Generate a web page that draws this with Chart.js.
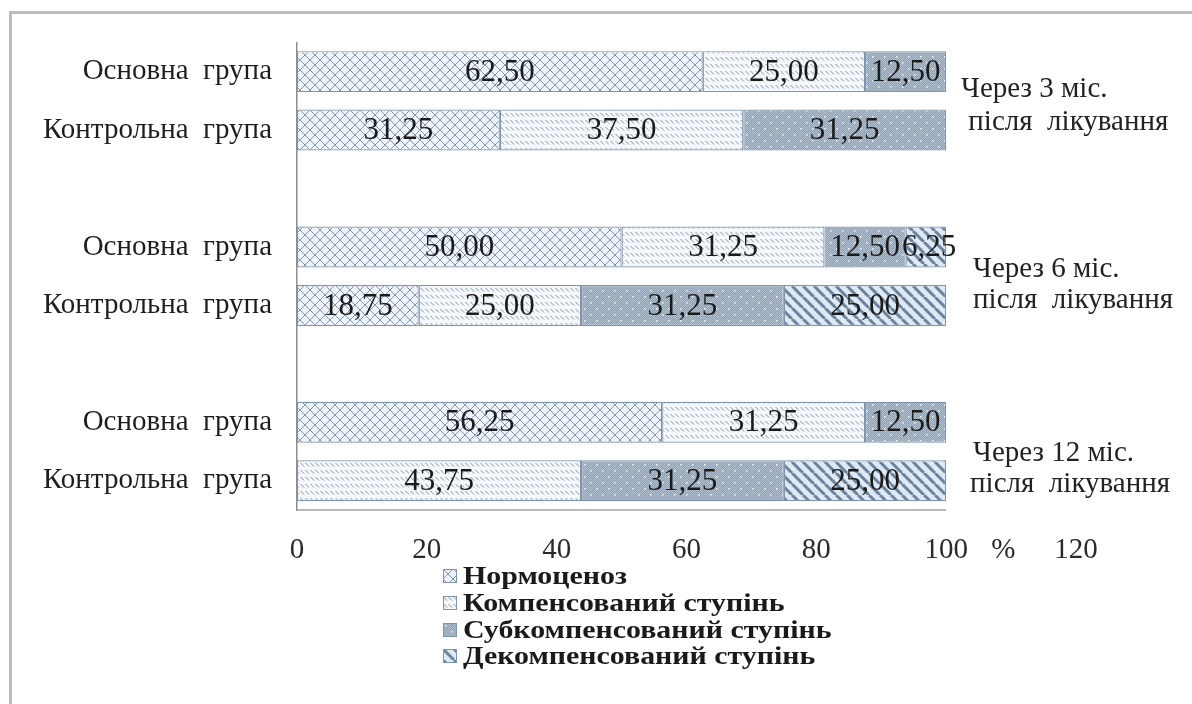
<!DOCTYPE html>
<html>
<head>
<meta charset="utf-8">
<script src="https://cdn.jsdelivr.net/npm/chart.js@4.4.1/dist/chart.umd.min.js"></script>
<style>
  html, body { margin: 0; padding: 0; background: #fff; width: 1192px; height: 704px; overflow: hidden; }
  #frame { position: absolute; left: 9px; top: 11px; width: 1200px; height: 720px;
           border-top: 3px solid #bdbdbd; border-left: 3px solid #bdbdbd; }
  #wrap { position: absolute; left: 0; top: 0; width: 1192px; height: 580px; }
  #legend { position: absolute; left: 443px; top: 563px; font-family: "Liberation Serif", serif;
            font-weight: bold; font-size: 26px; color: #1a1a1a; }
  .item { display: flex; align-items: center; height: 26.7px; white-space: pre; }
  .item canvas { width: 14px; height: 14px; margin-right: 6px; }
  .item span { display: inline-block; transform: scaleX(1.15); transform-origin: 0 50%; }
</style>
</head>
<body>
<div id="frame"></div>
<div id="wrap"><canvas id="chart" width="1192" height="580"></canvas></div>
<div id="legend"></div>
<script>
// Groups: 3, 6 and 12 months after treatment; empty rows separate the groups
const categories = ['Основна  група', 'Контрольна  група', '', 'Основна  група', 'Контрольна  група', '', 'Основна  група', 'Контрольна  група'];
const seriesNames = ['Нормоценоз', 'Компенсований ступінь', 'Субкомпенсований ступінь', 'Декомпенсований ступінь'];
const normocenosis   = [62.50, 31.25, null, 50.00, 18.75, null, 56.25, 0];
const compensated    = [25.00, 37.50, null, 31.25, 25.00, null, 31.25, 43.75];
const subcompensated = [12.50, 31.25, null, 12.50, 31.25, null, 12.50, 31.25];
const decompensated  = [0,     0,     null, 6.25,  25.00, null, 0,     25.00];
const xTicks = [0, 20, 40, 60, 80, 100, 120];
const axisUnit = '%';
const periodNotes = [
  ['Через 3 міс.', ' після  лікування'],
  ['Через 6 міс.', 'після  лікування'],
  ['Через 12 міс.', 'після  лікування']
];

const SERIF = '"Liberation Serif", "Times New Roman", serif';

// ---- fill patterns ----
function makeTile(w, h, paint) {
  const c = document.createElement('canvas');
  c.width = w; c.height = h;
  paint(c.getContext('2d'), w, h);
  return c;
}
const tiles = [
  // cross-hatch
  makeTile(10, 10, (g, w, h) => {
    g.fillStyle = '#eef4fa'; g.fillRect(0, 0, w, h);
    g.strokeStyle = '#8296ad'; g.lineWidth = 1;
    g.beginPath();
    g.moveTo(0, 0); g.lineTo(w, h);
    g.moveTo(w, 0); g.lineTo(0, h);
    g.stroke();
  }),
  // short downward dashes
  makeTile(5, 7, (g, w, h) => {
    g.fillStyle = '#f5f8fb'; g.fillRect(0, 0, w, h);
    g.strokeStyle = '#7f91a8'; g.lineWidth = 1;
    g.beginPath(); g.moveTo(0.5, 1); g.lineTo(4, 4.5); g.stroke();
  }),
  // dense dots
  makeTile(12, 12, (g, w, h) => {
    for (let y = 0; y < h; y++) for (let x = 0; x < w; x++) {
      g.fillStyle = (x + y) % 2 ? '#8ca0b7' : '#b1c0d1';
      g.fillRect(x, y, 1, 1);
    }
    g.fillStyle = '#f4f8fc';
    g.fillRect(2, 2, 1.5, 1.5); g.fillRect(8, 8, 1.5, 1.5);
  }),
  // wide downward diagonal stripes
  makeTile(11, 11, (g, w, h) => {
    g.fillStyle = '#dde9f5'; g.fillRect(0, 0, w, h);
    g.strokeStyle = '#6d829c'; g.lineWidth = 3;
    g.beginPath();
    for (let k = -1; k <= 1; k++) { g.moveTo(k * w, 0); g.lineTo(k * w + w, h); }
    g.stroke();
  })
];
const canvasEl = document.getElementById('chart');
const ctx = canvasEl.getContext('2d');
const patterns = tiles.map(t => ctx.createPattern(t, 'repeat'));
const seriesValues = [normocenosis, compensated, subcompensated, decompensated];

const fmt = v => v.toFixed(2).replace('.', ',');

// value labels centred in each segment, nudged right when they would collide
const valueLabels = {
  id: 'valueLabels',
  afterDatasetsDraw(chart) {
    const g = chart.ctx;
    g.save();
    g.font = '31px ' + SERIF;
    g.fillStyle = '#1b1b1b';
    g.textAlign = 'center';
    g.textBaseline = 'middle';
    const rightEdges = {};
    chart.data.datasets.forEach((ds, di) => {
      const meta = chart.getDatasetMeta(di);
      meta.data.forEach((el, i) => {
        const v = ds.data[i];
        if (!v) return;
        const txt = fmt(v);
        const w = g.measureText(txt).width;
        let cx = (el.x + el.base) / 2;
        const prev = rightEdges[i];
        if (prev !== undefined && cx - w / 2 < prev + 2) cx = prev + 2 + w / 2;
        rightEdges[i] = cx + w / 2;
        g.fillText(txt, cx, el.y + 1);
      });
    });
    g.restore();
  }
};

// period notes on the right of each group, unit sign on the value axis, base line
const noteOffsets = [[-11, 22], [-7, 24], [2, 33]];
const noteIndent = [[0, 0], [12, 12], [12, 9]];
const extras = {
  id: 'extras',
  afterDraw(chart) {
    const g = chart.ctx;
    const xs = chart.scales.x, ys = chart.scales.y;
    g.save();
    // base line under the bars
    g.strokeStyle = '#a3a3a3'; g.lineWidth = 1.5;
    g.beginPath();
    g.moveTo(xs.getPixelForValue(0), chart.chartArea.bottom);
    g.lineTo(xs.getPixelForValue(100), chart.chartArea.bottom);
    g.stroke();
    // notes
    g.font = '29px ' + SERIF;
    g.fillStyle = '#222';
    g.textAlign = 'left';
    g.textBaseline = 'middle';
    periodNotes.forEach((lines, k) => {
      const yc = (ys.getPixelForValue(k * 3) + ys.getPixelForValue(k * 3 + 1)) / 2;
      const x0 = xs.getPixelForValue(102.3);
      lines.forEach((t, j) => g.fillText(t, x0 + noteIndent[k][j], yc + noteOffsets[k][j]));
    });
    // unit sign
    const tf = xs.options.ticks.font;
    g.font = tf.size + 'px ' + SERIF;
    g.fillStyle = '#2a2a2a';
    g.textAlign = 'center';
    g.fillText(axisUnit, xs.getPixelForValue(108.8), xs.top + xs.options.ticks.padding + tf.size * 0.6);
    g.restore();
  }
};

const chart = new Chart(ctx, {
  type: 'bar',
  data: {
    labels: categories,
    datasets: seriesNames.map((name, k) => ({
      label: name,
      data: seriesValues[k],
      backgroundColor: patterns[k],
      borderColor: '#7f95ae',
      borderWidth: c => (c.raw ? 1.2 : 0),
      borderSkipped: false,
      barPercentage: 0.7,
      categoryPercentage: 1.0
    }))
  },
  options: {
    indexAxis: 'y',
    responsive: false,
    animation: false,
    layout: { padding: { left: 0, right: 116, top: 36, bottom: 0 } },
    scales: {
      x: {
        stacked: true, min: 0, max: 120,
        afterBuildTicks: s => { s.ticks = xTicks.map(v => ({ value: v })); },
        ticks: { font: { family: SERIF, size: 29 }, color: '#2a2a2a', padding: 23 },
        grid: { display: false, drawTicks: false },
        border: { display: false },
        afterFit: s => { s.height = 70; }
      },
      y: {
        stacked: true,
        ticks: { font: { family: SERIF, size: 29 }, color: '#1e1e1e', padding: 25 },
        grid: { display: false, drawTicks: false },
        border: { display: true, color: '#8e8e8e', width: 1.5 },
        afterFit: s => { s.width = 297; }
      }
    },
    plugins: { legend: { display: false }, tooltip: { enabled: false } }
  },
  plugins: [valueLabels, extras]
});

// legend built from the chart's own legend items
const legendBox = document.getElementById('legend');
Chart.defaults.plugins.legend.labels.generateLabels(chart).forEach((item, k) => {
  const row = document.createElement('div');
  row.className = 'item';
  const sw = document.createElement('canvas');
  sw.width = 14; sw.height = 14;
  const sg = sw.getContext('2d');
  sg.fillStyle = sg.createPattern(tiles[k], 'repeat');
  sg.fillRect(0, 0, 14, 14);
  sg.strokeStyle = '#7f95ae'; sg.lineWidth = 1;
  sg.strokeRect(0.5, 0.5, 13, 13);
  row.appendChild(sw);
  const label = document.createElement('span');
  label.textContent = item.text;
  row.appendChild(label);
  legendBox.appendChild(row);
});
</script>
</body>
</html>
